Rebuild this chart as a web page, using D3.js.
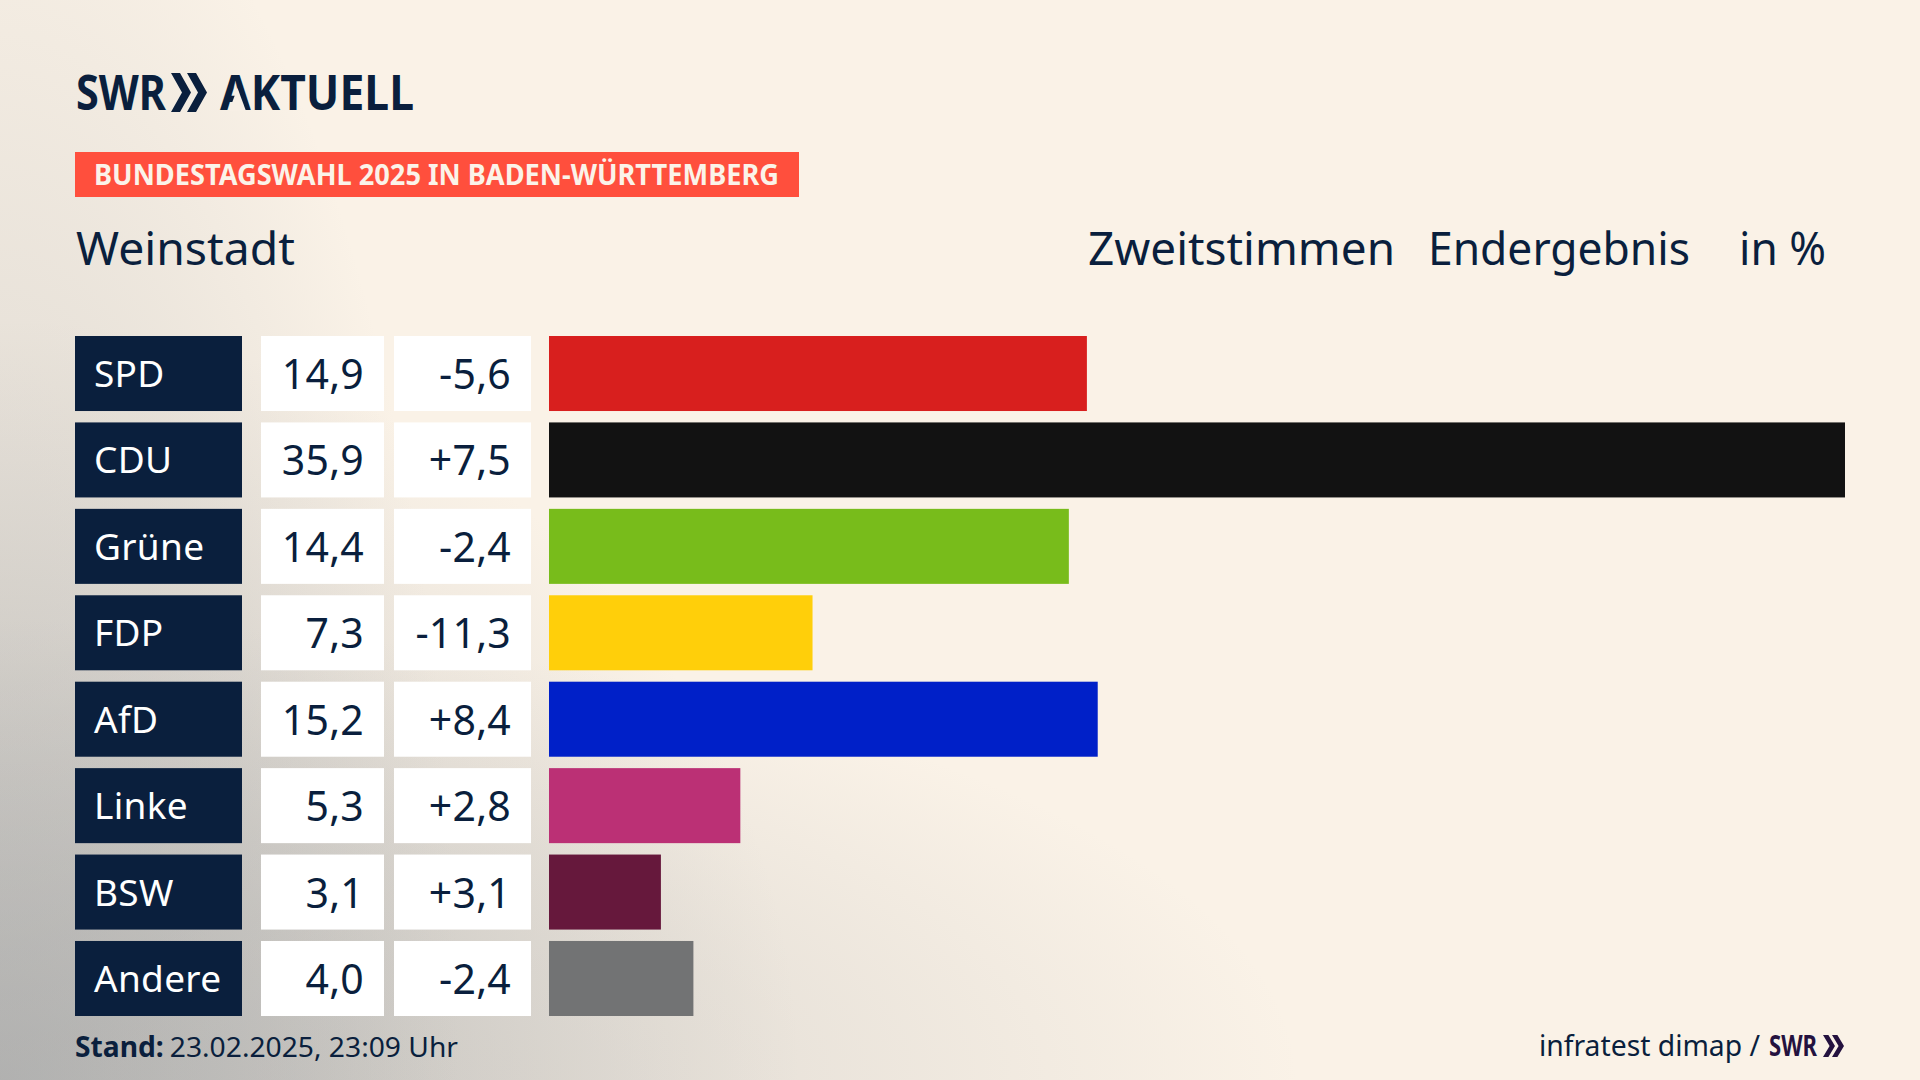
<!DOCTYPE html>
<html>
<head>
<meta charset="utf-8">
<script src="https://d3js.org/d3.v7.min.js"></script>
<style>
html, body { margin: 0; padding: 0; background: #faf2e7; overflow: hidden; }
svg { display: block; }
text { font-family: "Noto Sans", sans-serif; fill: #0a1f3d; }
</style>
</head>
<body>
<script>
// values
var parties = ["SPD", "CDU", "Grüne", "FDP", "AfD", "Linke", "BSW", "Andere"];
var shares = [14.9, 35.9, 14.4, 7.3, 15.2, 5.3, 3.1, 4.0];
var changes = [-5.6, 7.5, -2.4, -11.3, 8.4, 2.8, 3.1, -2.4];
var barColors = ["#d81f1e", "#121212", "#78bc1b", "#ffcf0a", "#0020c8", "#bb3075", "#66183c", "#727374"];

var width = 1920, height = 1080;
var navy = "#0a1f3d";
var cream = "#faf2e7";

var svg = d3.select("body").append("svg")
    .attr("width", width)
    .attr("height", height);

// background: cream, grey coming in from the left edge and the lower left corner
var defs = svg.append("defs");
function radial(id, rx, ry, stops) {
  var g = defs.append("radialGradient")
      .attr("id", id)
      .attr("gradientUnits", "userSpaceOnUse")
      .attr("cx", 0).attr("cy", 0).attr("r", 1)
      .attr("gradientTransform", "translate(0,1080) scale(" + rx + "," + ry + ")");
  stops.forEach(function(s) {
    g.append("stop").attr("offset", s[0]).attr("stop-color", "#a8a9a9").attr("stop-opacity", s[1]);
  });
}
radial("corner", 800, 760, [[0, 0.65], [0.5, 0.3], [1, 0]]);
radial("floor", 1300, 460, [[0, 0.45], [0.6, 0.2], [1, 0]]);
radial("side", 460, 1300, [[0, 0.42], [0.6, 0.2], [1, 0]]);
svg.append("rect").attr("width", width).attr("height", height).attr("fill", cream);
["corner", "floor", "side"].forEach(function(id) {
  svg.append("rect").attr("width", width).attr("height", height).attr("fill", "url(#" + id + ")");
});

// scales
var y = d3.scaleBand().domain(parties).range([336, 1016]).paddingInner(0.132);
var x = d3.scaleLinear().domain([0, 35.9]).range([549, 1845]);

function comma(v) { return v.toFixed(1).replace(".", ","); }
function signed(v) { return (v > 0 ? "+" : "") + comma(v); }

// squeezes a text into a given width, the font here differs from the original
function fitted(sel, w) {
  return sel.attr("textLength", w).attr("lengthAdjust", "spacingAndGlyphs");
}

// rows
var row = svg.selectAll(".row")
    .data(parties)
  .enter().append("g")
    .attr("class", "row")
    .attr("transform", function(d) { return "translate(0," + y(d) + ")"; });

row.append("rect")
    .attr("x", 75).attr("width", 167)
    .attr("height", y.bandwidth())
    .attr("fill", navy);
row.append("rect")
    .attr("x", 261).attr("width", 123)
    .attr("height", y.bandwidth())
    .attr("fill", "#fff");
row.append("rect")
    .attr("x", 394).attr("width", 137)
    .attr("height", y.bandwidth())
    .attr("fill", "#fff");
row.append("rect")
    .attr("x", x(0))
    .attr("width", function(d, i) { return x(shares[i]) - x(0); })
    .attr("height", y.bandwidth())
    .attr("fill", function(d, i) { return barColors[i]; });

row.append("text")
    .attr("x", 94).attr("y", 51)
    .attr("font-size", 37)
    .attr("letter-spacing", 0.3)
    .style("fill", "#fff")
    .text(function(d) { return d; });
row.append("text")
    .attr("x", 364).attr("y", 53)
    .attr("text-anchor", "end")
    .attr("font-size", 41)
    .attr("letter-spacing", 0.2)
    .text(function(d, i) { return comma(shares[i]); });
row.append("text")
    .attr("x", 511).attr("y", 53)
    .attr("text-anchor", "end")
    .attr("font-size", 41)
    .attr("letter-spacing", 0.2)
    .text(function(d, i) { return signed(changes[i]); });

// logo
function chevrons(g, x0, top, h, w, gap) {
  [0, gap].forEach(function(dx) {
    var p = d3.path();
    p.moveTo(x0 + dx, top);
    p.lineTo(x0 + dx + w * 0.45, top);
    p.lineTo(x0 + dx + w, top + h / 2);
    p.lineTo(x0 + dx + w * 0.45, top + h);
    p.lineTo(x0 + dx, top + h);
    p.lineTo(x0 + dx + w * 0.55, top + h / 2);
    p.closePath();
    g.append("path").attr("d", p.toString());
  });
}
fitted(svg.append("text").attr("x", 76).attr("y", 110).attr("font-size", 49).attr("font-weight", 700).text("SWR"), 90);
var logo = svg.append("g").attr("fill", navy);
chevrons(logo, 171, 73, 39, 20, 16);
fitted(svg.append("text").attr("x", 220).attr("y", 110).attr("font-size", 49).attr("font-weight", 700).text("AKTUELL"), 194);
// the logo's A has no crossbar
svg.append("path").attr("d", "M237.5,88L246,111L229,111Z").attr("fill", "#f7efe5");

// banner
svg.append("rect").attr("x", 75).attr("y", 152).attr("width", 724).attr("height", 45).attr("fill", "#ff4f3d");
fitted(svg.append("text").attr("x", 94).attr("y", 185).attr("font-size", 29).attr("font-weight", 700).style("fill", "#fbf3e9").text("BUNDESTAGSWAHL 2025 IN BADEN-WÜRTTEMBERG"), 685);

// header line
fitted(svg.append("text").attr("x", 76).attr("y", 265).attr("font-size", 45).text("Weinstadt"), 219);
fitted(svg.append("text").attr("x", 1088).attr("y", 265).attr("font-size", 45).text("Zweitstimmen"), 307);
fitted(svg.append("text").attr("x", 1428).attr("y", 265).attr("font-size", 45).text("Endergebnis"), 262);
fitted(svg.append("text").attr("x", 1739).attr("y", 265).attr("font-size", 45).text("in %"), 87);

// footer
var stand = svg.append("text").attr("x", 75).attr("y", 1057).attr("font-size", 28);
stand.append("tspan").attr("font-weight", 700).text("Stand:");
stand.append("tspan").attr("dx", 6).text("23.02.2025, 23:09 Uhr");
fitted(stand, 383);

fitted(svg.append("text").attr("x", 1539).attr("y", 1056).attr("font-size", 29).text("infratest dimap /"), 221);
fitted(svg.append("text").attr("x", 1769).attr("y", 1056).attr("font-size", 29).attr("font-weight", 700).style("fill", "#24123f").text("SWR"), 48);
var logo2 = svg.append("g").attr("fill", "#24123f");
chevrons(logo2, 1823, 1035, 22, 12, 9);
</script>
</body>
</html>
